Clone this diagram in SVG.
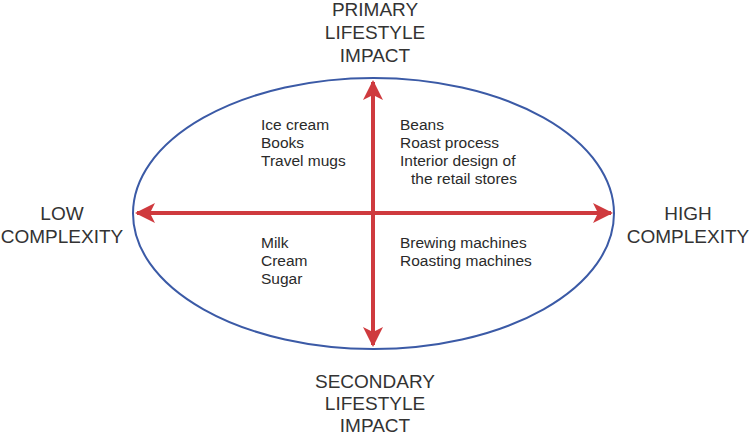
<svg xmlns="http://www.w3.org/2000/svg" width="750" height="435" viewBox="0 0 750 435">
<style>
.lbl{font-family:"Liberation Sans",Arial,sans-serif;font-size:19px;fill:#333;text-anchor:middle}
.item{font-family:"Liberation Sans",Arial,sans-serif;font-size:15.5px;fill:#2a2a2a}
.ax{stroke:#cf3a3e;stroke-width:4;fill:none}
</style>
<defs>
<marker id="ah" viewBox="0 0 10 10" refX="9" refY="5" markerWidth="5" markerHeight="5" orient="auto-start-reverse" markerUnits="strokeWidth">
<path d="M0,0 L10,5 L0,10 L2.5,5 Z" fill="#cf3a3e"/>
</marker>
</defs>
<rect width="750" height="435" fill="#fff"/>
<g id="ellipse"><ellipse cx="373.5" cy="213.5" rx="240.5" ry="135.5" fill="none" stroke="#3b5aa6" stroke-width="2"/></g>
<g id="connectors">
<line class="ax" x1="137" y1="213" x2="611" y2="213" marker-start="url(#ah)" marker-end="url(#ah)"/>
<line class="ax" x1="373" y1="82" x2="373" y2="345" marker-start="url(#ah)" marker-end="url(#ah)"/>
</g>
<g id="top"><text class="lbl" x="375" y="16">PRIMARY</text><text class="lbl" x="375" y="39">LIFESTYLE</text><text class="lbl" x="375" y="62">IMPACT</text></g>
<g id="bottom"><text class="lbl" x="375" y="388">SECONDARY</text><text class="lbl" x="375" y="410">LIFESTYLE</text><text class="lbl" x="375" y="432">IMPACT</text></g>
<g id="left"><text class="lbl" x="62" y="220">LOW</text><text class="lbl" x="62" y="243">COMPLEXITY</text></g>
<g id="right"><text class="lbl" x="688" y="220">HIGH</text><text class="lbl" x="688" y="243">COMPLEXITY</text></g>
<g id="q1"><text class="item" x="261" y="130">Ice cream</text><text class="item" x="261" y="148">Books</text><text class="item" x="261" y="166">Travel mugs</text></g>
<g id="q2"><text class="item" x="400" y="130">Beans</text><text class="item" x="400" y="148">Roast process</text><text class="item" x="400" y="166">Interior design of</text><text class="item" x="411" y="184">the retail stores</text></g>
<g id="q3"><text class="item" x="261" y="248">Milk</text><text class="item" x="261" y="266">Cream</text><text class="item" x="261" y="284">Sugar</text></g>
<g id="q4"><text class="item" x="400" y="248">Brewing machines</text><text class="item" x="400" y="266">Roasting machines</text></g>
</svg>
